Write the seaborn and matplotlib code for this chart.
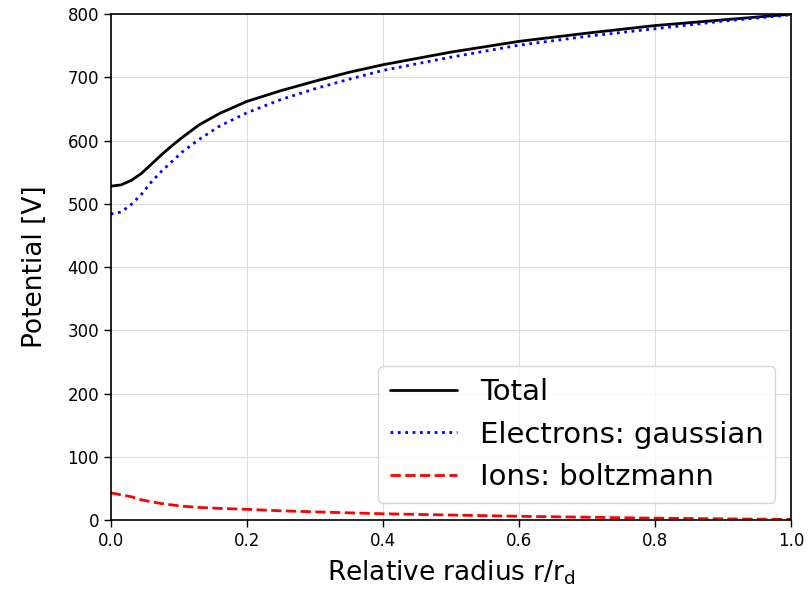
import matplotlib
matplotlib.use("Agg")
import matplotlib.pyplot as plt
import seaborn as sns
import pandas as pd

r = [0, 0.015, 0.03, 0.045, 0.06, 0.075, 0.09, 0.105, 0.13, 0.16, 0.2, 0.25,
     0.3, 0.35, 0.4, 0.5, 0.6, 0.7, 0.8, 0.9, 1.0]
total = [528, 530, 537, 548, 563, 578, 592, 605, 625, 643, 662, 679,
         694, 708, 720, 740, 757, 770, 782, 791, 800]
electrons = [484, 487, 499, 515, 535, 552, 567, 582, 602, 623, 644, 665,
             682, 697, 711, 732, 751, 765, 777, 789, 799]
ions = [43, 40, 37, 32, 29, 26, 24, 22, 20, 18.5, 17, 14.7,
        13, 11.5, 10, 8, 6, 4.5, 3, 2, 1]

labels = ["Total", "Electrons: gaussian", "Ions: boltzmann"]

sns.set_style("ticks")
plt.rcParams['font.family'] = ['DejaVu Sans']
plt.rcParams['text.color'] = 'black'
plt.rcParams['axes.labelcolor'] = 'black'

fig = plt.figure(figsize=(8.08, 5.91), dpi=100)
ax = fig.add_axes([0.137, 0.120, 0.842, 0.856])

df = pd.DataFrame({"r": r, "total": total, "electrons": electrons, "ions": ions})
sns.lineplot(data=df, x="r", y="total", ax=ax, color="black", lw=2, label=labels[0])
sns.lineplot(data=df, x="r", y="electrons", ax=ax, color="blue", lw=2, ls=":", label=labels[1])
sns.lineplot(data=df, x="r", y="ions", ax=ax, color="red", lw=2, ls="--", label=labels[2])

ax.set_xlim(0, 1)
ax.set_ylim(0, 800)
ax.set_xticks([0, 0.2, 0.4, 0.6, 0.8, 1.0])
ax.set_yticks(range(0, 801, 100))
ax.grid(True, color="#dddddd", lw=0.8)
ax.tick_params(labelsize=12, length=5, width=1, colors="black")
for s in ax.spines.values():
    s.set_color("black")
    s.set_linewidth(1.2)
ax.set_xlabel(r"Relative radius r/r$_\mathrm{d}$", fontsize=19, labelpad=6)
ax.set_ylabel("Potential [V]", fontsize=19, labelpad=14)
leg = ax.legend(loc="lower right", fontsize=21, frameon=True, borderaxespad=0,
                bbox_to_anchor=(0.977, 0.034), handlelength=2.3)
for t in leg.get_texts():
    t.set_color("black")

fig.savefig("out.png", dpi=100)
